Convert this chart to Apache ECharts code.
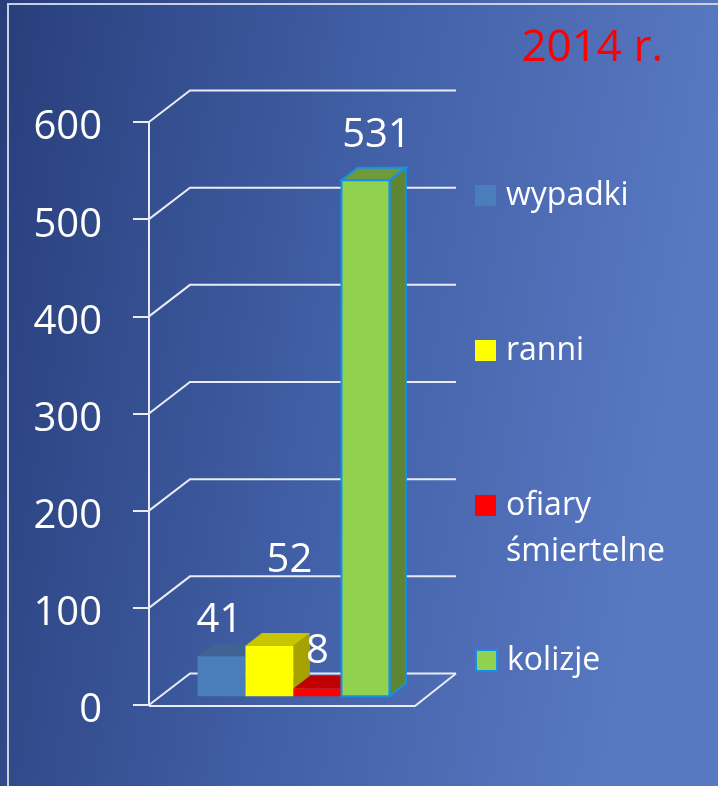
<!DOCTYPE html>
<html>
<head>
<meta charset="utf-8">
<title>2014 r.</title>
<script src="https://cdn.jsdelivr.net/npm/echarts@6/dist/echarts.min.js"></script>
<style>
  html, body { margin: 0; padding: 0; }
  #chart { width: 718px; height: 786px; }
</style>
</head>
<body>
<div id="chart"></div>
<script>
// dane
var categories = ['wypadki', 'ranni', 'ofiary\nśmiertelne', 'kolizje'];
var values = [41, 52, 8, 531];
var yTicks = [0, 100, 200, 300, 400, 500, 600];
var yearLabel = '2014 r.';

// wyglad
var faces = [
  { front: '#4A7EBB', top: '#3E6394', side: '#36588A' },
  { front: '#FFFF00', top: '#C8C400', side: '#A6A200' },
  { front: '#FF0000', top: '#C00000', side: '#A00000' },
  { front: '#92D050', top: '#6E9A3C', side: '#5E8533', stroke: '#1490EC' }
];
var labelOffset = [[-2, -36], [20, -85], [0, -37], [11, -45]];
var legendIconTop = [182, 337, 492, 647];
var WALL = [41, -31.5];     // glebokosc scian
var BAR_FRONT = 0.28, BAR_DEPTH = 0.4;
var AXIS_GAP = 37;
var LINE = '#E8ECF4';
var FONT = '"Open Sans"';

function renderWall(params, api) {
  var cs = params.coordSys;
  var y = api.coord([0, api.value(1)])[1];
  var xl = cs.x - AXIS_GAP, xr = cs.x + cs.width + AXIS_GAP;
  var st = { stroke: LINE, lineWidth: 2, fill: null };
  var kids = [{
    type: 'polyline',
    shape: { points: [[xl, y], [xl + WALL[0], y + WALL[1]], [xr + WALL[0], y + WALL[1]]] },
    style: st
  }];
  if (api.value(1) === 0) {
    kids.push({
      type: 'polyline',
      shape: { points: [[xl, y + 1], [xr, y + 1], [xr + WALL[0], y + WALL[1]]] },
      style: st
    });
  }
  return { type: 'group', children: kids };
}

function barSeries(i) {
  var f = faces[i];
  return {
    name: categories[i],
    type: 'custom',
    coordinateSystem: 'cartesian2d',
    z: 3,
    silent: true,
    itemStyle: { color: f.front },
    data: [[categories[i], values[i]]],
    encode: { x: 0, y: 1 },
    renderItem: function (params, api) {
      var c = api.value(0), v = api.value(1);
      var base = api.coord([c, 0]);
      var top = api.coord([c, v]);
      var w = api.size([1, 0])[0];
      var ox = WALL[0] * BAR_FRONT, oy = WALL[1] * BAR_FRONT;
      var dx = WALL[0] * BAR_DEPTH, dy = WALL[1] * BAR_DEPTH;
      var x0 = base[0] - w / 2 + ox, x1 = x0 + w;
      var yb = base[1] + oy, yt = top[1] + oy;
      var stroke = f.stroke || null;
      var lw = f.stroke ? 2 : 0;
      return {
        type: 'group',
        children: [
          { type: 'polygon', shape: { points: [[x1, yb], [x1 + dx, yb + dy], [x1 + dx, yt + dy], [x1, yt]] },
            style: { fill: f.side, stroke: stroke, lineWidth: lw } },
          { type: 'polygon', shape: { points: [[x0, yt], [x1, yt], [x1 + dx, yt + dy], [x0 + dx, yt + dy]] },
            style: { fill: f.top, stroke: stroke, lineWidth: lw } },
          { type: 'polygon', shape: { points: [[x0, yb], [x1, yb], [x1, yt], [x0, yt]] },
            style: { fill: f.front, stroke: stroke, lineWidth: lw } },
          { type: 'text', z2: 10,
            style: { text: String(v), x: (x0 + x1) / 2 + labelOffset[i][0], y: yt + labelOffset[i][1],
              fill: '#FFFFFF', fontSize: 40, fontFamily: FONT, align: 'center', verticalAlign: 'middle' } }
        ]
      };
    }
  };
}

var legends = categories.map(function (name, i) {
  var f = faces[i];
  var n = name.split('\n').length;
  var lh = 46;
  var lines = 2 * n - 1;   // puste linie u gory, zeby ikona stala przy pierwszej linii
  return {
    orient: 'vertical',
    left: 475,
    top: legendIconTop[i] + 10.5 - lines * lh / 2,
    padding: 0,
    itemWidth: 21,
    itemHeight: 21,
    icon: 'rect',
    selectedMode: false,
    formatter: function (s) {
      var pad = '';
      for (var k = 1; k < n; k++) pad += ' \n';
      return pad + s;
    },
    data: [{ name: name, itemStyle: { color: f.front, borderColor: f.stroke || f.front, borderWidth: f.stroke ? 2 : 0 } }],
    textStyle: { color: '#FFFFFF', fontSize: 32, fontFamily: FONT, lineHeight: lh, padding: [6, 0, 0, 5] }
  };
});

var series = [{
  name: 'siatka',
  type: 'custom',
  coordinateSystem: 'cartesian2d',
  silent: true,
  z: 1,
  data: yTicks.map(function (t) { return [categories[0], t]; }),
  encode: { x: 0, y: 1 },
  renderItem: renderWall
}];
categories.forEach(function (c, i) { series.push(barSeries(i)); });

var chart = echarts.init(document.getElementById('chart'));
chart.setOption({
  animation: false,
  backgroundColor: {
    type: 'linear', x: 0, y: 0, x2: 1, y2: 0.15,
    colorStops: [
      { offset: 0, color: '#283E7B' },
      { offset: 0.5, color: '#405EA4' },
      { offset: 1, color: '#5878C2' }
    ]
  },
  graphic: [{
    type: 'rect', silent: true, z: -1,
    shape: { x: 8, y: 4, width: 740, height: 820 },
    style: { fill: null, stroke: '#C8D0E2', lineWidth: 2 }
  }],
  title: {
    text: yearLabel,
    right: 55,
    top: 26,
    padding: 0,
    textStyle: { color: '#FF0000', fontSize: 44, fontWeight: 'normal', fontFamily: FONT }
  },
  legend: legends,
  grid: { left: 186, top: 122, width: 192, bottom: 81 },
  xAxis: { type: 'category', data: categories, show: false },
  yAxis: {
    type: 'value',
    min: 0, max: 600, interval: 100,
    offset: AXIS_GAP,
    axisLine: { show: true, lineStyle: { color: LINE, width: 2 } },
    axisTick: { show: true, length: 16, lineStyle: { color: LINE, width: 2 } },
    axisLabel: { color: '#FFFFFF', fontSize: 40, fontFamily: FONT, margin: 47, verticalAlign: 'top', lineHeight: 12 },
    splitLine: { show: false }
  },
  series: series
});
</script>
</body>
</html>
